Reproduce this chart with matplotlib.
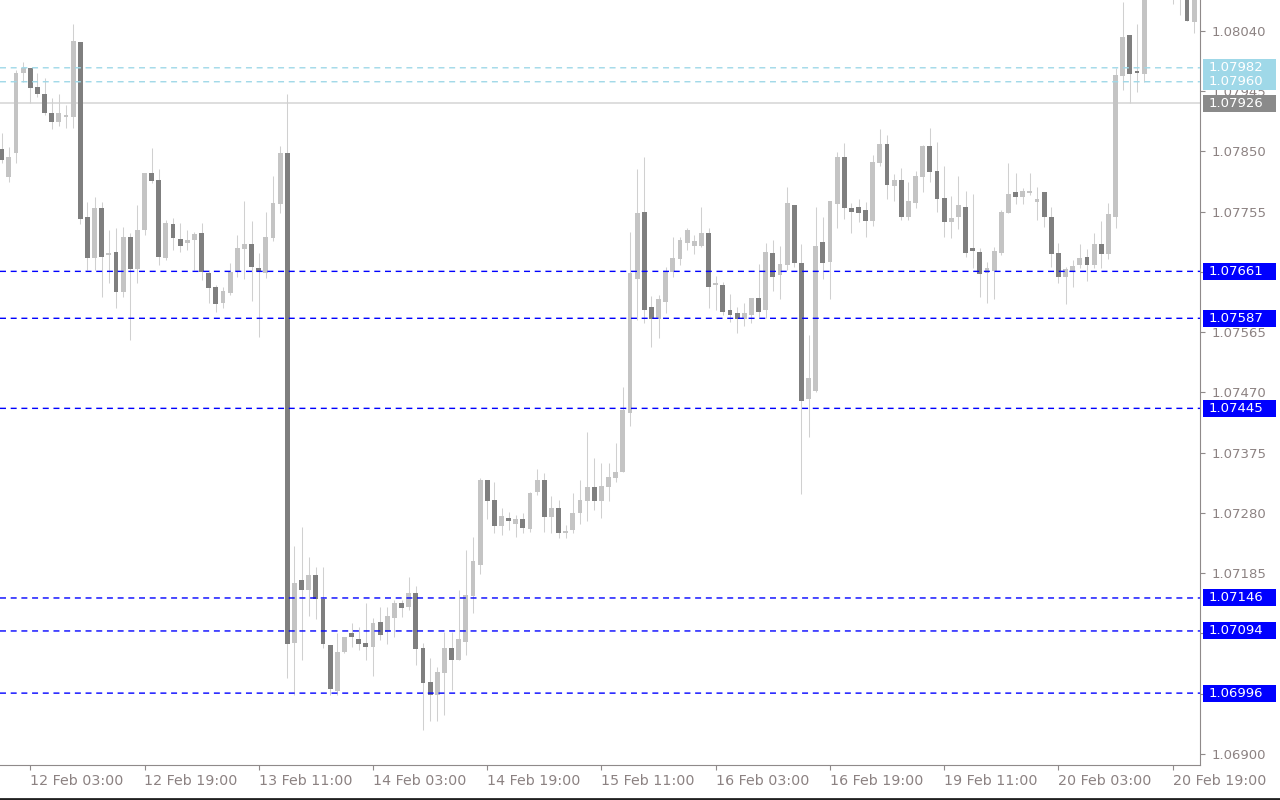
import matplotlib
matplotlib.use("Agg")
import matplotlib.pyplot as plt
from matplotlib.patches import Rectangle
from matplotlib.transforms import blended_transform_factory

# EURUSD H1 candles (oldest first)
opens = [
    1.07854, 1.07810, 1.07848, 1.07974, 1.07982, 1.07952, 1.07941, 1.07911, 1.07897, 1.07905,
    1.07905, 1.08023, 1.07747, 1.07682, 1.07761, 1.07687, 1.07692, 1.07629, 1.07715, 1.07665,
    1.07726, 1.07816, 1.07805, 1.07682, 1.07736, 1.07712, 1.07706, 1.07711, 1.07722, 1.07659,
    1.07636, 1.07611, 1.07627, 1.07662, 1.07696, 1.07704, 1.07666, 1.07659, 1.07714, 1.07767,
    1.07848, 1.07075, 1.07175, 1.07159, 1.07182, 1.07144, 1.07072, 1.06999, 1.07061, 1.07091,
    1.07081, 1.07075, 1.07069, 1.07108, 1.07092, 1.07115, 1.07138, 1.07132, 1.07154, 1.07067,
    1.07014, 1.06993, 1.07028, 1.07067, 1.07048, 1.07077, 1.07149, 1.07198, 1.07332, 1.07301,
    1.07260, 1.07272, 1.07263, 1.07271, 1.07255, 1.07313, 1.07332, 1.07274, 1.07288, 1.07249,
    1.07253, 1.07280, 1.07299, 1.07321, 1.07299, 1.07321, 1.07335, 1.07345, 1.07438, 1.07649,
    1.07755, 1.07605, 1.07586, 1.07613, 1.07660, 1.07681, 1.07706, 1.07701, 1.07701, 1.07722,
    1.07640, 1.07640, 1.07600, 1.07595, 1.07586, 1.07592, 1.07619, 1.07600, 1.07690, 1.07655,
    1.07671, 1.07766, 1.07674, 1.07460, 1.07473, 1.07707, 1.07676, 1.07767, 1.07841, 1.07761,
    1.07763, 1.07758, 1.07741, 1.07832, 1.07862, 1.07796, 1.07805, 1.07747, 1.07769, 1.07810,
    1.07859, 1.07819, 1.07777, 1.07739, 1.07747, 1.07763, 1.07698, 1.07692, 1.07659, 1.07662,
    1.07690, 1.07753, 1.07786, 1.07778, 1.07785, 1.07771, 1.07786, 1.07747, 1.07690, 1.07652,
    1.07662, 1.07671, 1.07684, 1.07671, 1.07704, 1.07688, 1.07747, 1.07969, 1.08034, 1.07977,
    1.07972, 1.08125, 1.08160, 1.08140, 1.08150, 1.08110, 1.08120, 1.08054,
]
highs = [
    1.07879, 1.07857, 1.07979, 1.07991, 1.07982, 1.07974, 1.07966, 1.07935, 1.07941, 1.07923,
    1.08051, 1.08023, 1.07771, 1.07778, 1.07771, 1.07726, 1.07730, 1.07731, 1.07722, 1.07766,
    1.07816, 1.07856, 1.07822, 1.07742, 1.07745, 1.07737, 1.07726, 1.07723, 1.07737, 1.07663,
    1.07640, 1.07636, 1.07674, 1.07718, 1.07772, 1.07741, 1.07690, 1.07755, 1.07811, 1.07859,
    1.07941, 1.07228, 1.07258, 1.07211, 1.07195, 1.07195, 1.07072, 1.07091, 1.07085, 1.07107,
    1.07100, 1.07138, 1.07115, 1.07132, 1.07132, 1.07143, 1.07143, 1.07179, 1.07165, 1.07075,
    1.07051, 1.07037, 1.07093, 1.07093, 1.07159, 1.07222, 1.07242, 1.07335, 1.07332, 1.07329,
    1.07288, 1.07282, 1.07277, 1.07280, 1.07313, 1.07350, 1.07343, 1.07307, 1.07301, 1.07261,
    1.07312, 1.07332, 1.07408, 1.07367, 1.07359, 1.07359, 1.07391, 1.07479, 1.07723, 1.07822,
    1.07841, 1.07622, 1.07624, 1.07668, 1.07715, 1.07715, 1.07730, 1.07718, 1.07763, 1.07730,
    1.07654, 1.07645, 1.07625, 1.07605, 1.07611, 1.07619, 1.07673, 1.07706, 1.07711, 1.07701,
    1.07794, 1.07766, 1.07704, 1.07561, 1.07763, 1.07747, 1.07772, 1.07849, 1.07863, 1.07769,
    1.07775, 1.07771, 1.07845, 1.07886, 1.07876, 1.07815, 1.07824, 1.07802, 1.07819, 1.07860,
    1.07887, 1.07865, 1.07827, 1.07780, 1.07811, 1.07788, 1.07783, 1.07698, 1.07676, 1.07699,
    1.07758, 1.07832, 1.07816, 1.07793, 1.07816, 1.07794, 1.07786, 1.07763, 1.07706, 1.07668,
    1.07679, 1.07704, 1.07696, 1.07722, 1.07741, 1.07769, 1.07982, 1.08086, 1.08034, 1.08051,
    1.08140, 1.08175, 1.08190, 1.08170, 1.08180, 1.08150, 1.08140, 1.08120,
]
lows = [
    1.07832, 1.07802, 1.07832, 1.07960, 1.07927, 1.07936, 1.07908, 1.07886, 1.07890, 1.07887,
    1.07887, 1.07736, 1.07663, 1.07663, 1.07621, 1.07643, 1.07603, 1.07621, 1.07553, 1.07643,
    1.07718, 1.07800, 1.07671, 1.07679, 1.07695, 1.07692, 1.07695, 1.07663, 1.07647, 1.07611,
    1.07597, 1.07603, 1.07624, 1.07652, 1.07649, 1.07614, 1.07558, 1.07651, 1.07709, 1.07753,
    1.07020, 1.06993, 1.07048, 1.07118, 1.07113, 1.07067, 1.06993, 1.06993, 1.07059, 1.07069,
    1.07064, 1.07048, 1.07023, 1.07080, 1.07073, 1.07085, 1.07116, 1.07127, 1.07040, 1.06938,
    1.06952, 1.06952, 1.06962, 1.07001, 1.07048, 1.07056, 1.07122, 1.07184, 1.07271, 1.07249,
    1.07245, 1.07253, 1.07242, 1.07249, 1.07250, 1.07309, 1.07250, 1.07249, 1.07241, 1.07241,
    1.07249, 1.07263, 1.07267, 1.07285, 1.07272, 1.07299, 1.07329, 1.07345, 1.07417, 1.07584,
    1.07580, 1.07542, 1.07556, 1.07595, 1.07652, 1.07671, 1.07695, 1.07688, 1.07699, 1.07603,
    1.07600, 1.07592, 1.07581, 1.07564, 1.07575, 1.07580, 1.07589, 1.07588, 1.07630, 1.07617,
    1.07663, 1.07668, 1.07310, 1.07400, 1.07471, 1.07649, 1.07617, 1.07730, 1.07744, 1.07722,
    1.07739, 1.07715, 1.07733, 1.07827, 1.07775, 1.07772, 1.07742, 1.07742, 1.07761, 1.07786,
    1.07802, 1.07755, 1.07715, 1.07714, 1.07728, 1.07684, 1.07666, 1.07621, 1.07611, 1.07617,
    1.07687, 1.07753, 1.07767, 1.07767, 1.07782, 1.07742, 1.07731, 1.07668, 1.07643, 1.07610,
    1.07636, 1.07666, 1.07646, 1.07666, 1.07666, 1.07681, 1.07730, 1.07947, 1.07927, 1.07944,
    1.07960, 1.08110, 1.08120, 1.08105, 1.08083, 1.08065, 1.08055, 1.08037,
]
closes = [
    1.07837, 1.07841, 1.07974, 1.07982, 1.07950, 1.07941, 1.07911, 1.07897, 1.07911, 1.07908,
    1.08024, 1.07744, 1.07682, 1.07761, 1.07684, 1.07690, 1.07629, 1.07715, 1.07665, 1.07726,
    1.07816, 1.07804, 1.07684, 1.07737, 1.07714, 1.07701, 1.07711, 1.07720, 1.07660, 1.07635,
    1.07610, 1.07630, 1.07660, 1.07698, 1.07704, 1.07668, 1.07660, 1.07715, 1.07769, 1.07848,
    1.07073, 1.07170, 1.07159, 1.07182, 1.07144, 1.07073, 1.07003, 1.07061, 1.07085, 1.07085,
    1.07073, 1.07069, 1.07107, 1.07088, 1.07118, 1.07138, 1.07130, 1.07154, 1.07066, 1.07012,
    1.06993, 1.07029, 1.07067, 1.07048, 1.07081, 1.07151, 1.07204, 1.07332, 1.07299, 1.07260,
    1.07275, 1.07267, 1.07271, 1.07256, 1.07312, 1.07332, 1.07274, 1.07288, 1.07249, 1.07252,
    1.07280, 1.07301, 1.07321, 1.07299, 1.07323, 1.07337, 1.07345, 1.07443, 1.07659, 1.07753,
    1.07600, 1.07586, 1.07617, 1.07660, 1.07682, 1.07711, 1.07726, 1.07709, 1.07722, 1.07636,
    1.07643, 1.07597, 1.07592, 1.07586, 1.07595, 1.07619, 1.07597, 1.07692, 1.07652, 1.07673,
    1.07769, 1.07674, 1.07457, 1.07493, 1.07701, 1.07674, 1.07772, 1.07841, 1.07761, 1.07755,
    1.07753, 1.07741, 1.07833, 1.07862, 1.07797, 1.07805, 1.07747, 1.07772, 1.07811, 1.07859,
    1.07818, 1.07775, 1.07739, 1.07745, 1.07766, 1.07690, 1.07693, 1.07657, 1.07666, 1.07693,
    1.07755, 1.07783, 1.07778, 1.07788, 1.07788, 1.07775, 1.07747, 1.07688, 1.07652, 1.07665,
    1.07670, 1.07682, 1.07671, 1.07704, 1.07688, 1.07752, 1.07971, 1.08031, 1.07972, 1.07974,
    1.08125, 1.08160, 1.08140, 1.08150, 1.08110, 1.08125, 1.08056, 1.08100,
]

# time axis labels every 16 bars (bar index of the labelled candle)
time_ticks = [-12, 4, 20, 36, 52, 68, 84, 100, 116, 132, 148, 164]
time_labels = ["9 Feb 11:00", "12 Feb 03:00", "12 Feb 19:00", "13 Feb 11:00",
               "14 Feb 03:00", "14 Feb 19:00", "15 Feb 11:00", "16 Feb 03:00",
               "16 Feb 19:00", "19 Feb 11:00", "20 Feb 03:00", "20 Feb 19:00"]

price_ticks = [1.08040, 1.07945, 1.07850, 1.07755, 1.07660, 1.07565, 1.07470,
               1.07375, 1.07280, 1.07185, 1.07090, 1.06995, 1.06900]

level_lines = [1.07661, 1.07587, 1.07445, 1.07146, 1.07094, 1.06996]
ask_lines = [1.07960, 1.07982]
bid_line = 1.07926

bull_col = "#c4c4c4"
bear_col = "#7f7f7f"
wick_col = "#d0d0d0"
axis_col = "#8f8a8a"
text_col = "#8c8282"

W, H = 1280, 800
fig = plt.figure(figsize=(W / 100, H / 100), dpi=100)
plot_right, plot_bottom = 1200, 765
ax = fig.add_axes([0, 1 - plot_bottom / H, plot_right / W, plot_bottom / H])

px_per_unit = 63421.0
x_step = 7.14
x0 = 1.7
ax.set_xlim(-x0 / x_step, (plot_right - x0) / x_step)
top_price = 1.08040 + 31 / px_per_unit
ax.set_ylim(top_price - plot_bottom / px_per_unit, top_price)

n = len(opens)
xs = list(range(n))
# wicks
ax.vlines(xs, lows, highs, colors=wick_col, linewidth=0.75, zorder=2)
# bodies
min_h = 1.2 / px_per_unit
bottoms = [min(o, c) for o, c in zip(opens, closes)]
heights = [max(abs(c - o), min_h) for o, c in zip(opens, closes)]
colors = [bull_col if c >= o else bear_col for o, c in zip(opens, closes)]
ax.bar(xs, heights, bottom=bottoms, width=0.68, color=colors, linewidth=0, zorder=3)

# horizontal levels, a little soft like the screenshot
for lv in level_lines:
    ax.axhline(lv, color="#0000ff", linewidth=1.0, linestyle=(0, (4.3, 3.4)),
               snap=False, zorder=4)
for lv in ask_lines:
    ax.axhline(lv, color="#9fd8e8", linewidth=1.0, linestyle=(0, (4.3, 3.4)),
               snap=False, zorder=4)
ax.axhline(bid_line, color="#d4d4d4", linewidth=1.1, zorder=1)

# axes styling
for side in ["top", "left"]:
    ax.spines[side].set_visible(False)
for side in ["right", "bottom"]:
    ax.spines[side].set_color(axis_col)
    ax.spines[side].set_linewidth(0.8)
ax.yaxis.tick_right()
ax.set_yticks(price_ticks)
# labels sitting under a price tag are hidden in the terminal too
hidden = [p for p in price_ticks
          if any(abs(p - lv) < 8 / px_per_unit for lv in level_lines)]
ax.set_yticklabels(["" if p in hidden else f"{p:.5f}" for p in price_ticks])
ax.tick_params(axis="y", colors=axis_col, labelcolor=text_col, length=3.5,
               width=0.8, pad=5, labelsize=9.5)

in_view = [(t, l) for t, l in zip(time_ticks, time_labels) if t >= 0]
ax.set_xticks([t for t, _ in in_view])
ax.set_xticklabels([l for _, l in in_view])
ax.tick_params(axis="x", colors=axis_col, labelcolor=text_col, length=3.5,
               width=0.8, pad=3, labelsize=10.3)
for lab in ax.get_xticklabels():
    lab.set_horizontalalignment("left")
# label for the bar left of the view, cut by the window edge
trx = blended_transform_factory(ax.transData, ax.transAxes)
for t, l in zip(time_ticks, time_labels):
    if t < 0:
        ax.text(t, -0.0165, l, transform=trx, ha="left", va="top",
                color=text_col, fontsize=10.3, clip_on=False)

# price tags on the right axis
tr = blended_transform_factory(fig.transFigure, ax.transData)
box_h = 17 / px_per_unit
def tag(price, face):
    ax.add_patch(Rectangle((1203 / W, price - box_h / 2), 73 / W, box_h,
                           transform=tr, facecolor=face, edgecolor="none",
                           clip_on=False, zorder=10))
    ax.text(1209 / W, price, f"{price:.5f}", transform=tr, ha="left",
            va="center", color="white", fontsize=9.5, clip_on=False, zorder=10)

for lv in ask_lines:
    tag(lv, "#9fd8e8")
tag(bid_line, "#8a8a8a")
for lv in level_lines:
    tag(lv, "#0000ff")

# window frame at the bottom
fig.add_artist(plt.Line2D([0, 1], [1.5 / H, 1.5 / H], transform=fig.transFigure,
                          color="#202020", linewidth=2))

fig.savefig("out.png", dpi=100, facecolor="white")
